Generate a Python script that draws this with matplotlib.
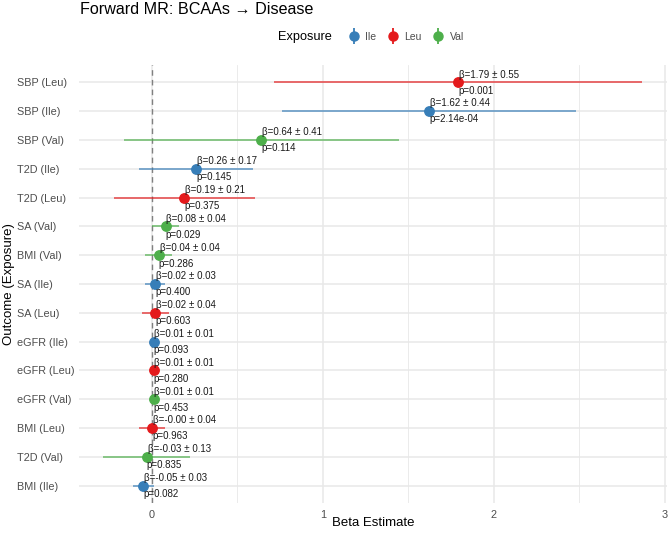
import matplotlib
matplotlib.use("Agg")
import matplotlib.pyplot as plt
from matplotlib.lines import Line2D
from matplotlib.legend_handler import HandlerTuple

plt.rcParams['font.family'] = ['Liberation Sans', 'DejaVu Sans']

# Forward MR results, listed top to bottom as in the figure
labels = ['SBP (Leu)', 'SBP (Ile)', 'SBP (Val)', 'T2D (Ile)', 'T2D (Leu)',
          'SA (Val)', 'BMI (Val)', 'SA (Ile)', 'SA (Leu)', 'eGFR (Ile)',
          'eGFR (Leu)', 'eGFR (Val)', 'BMI (Leu)', 'T2D (Val)', 'BMI (Ile)']
exposure = ['Leu', 'Ile', 'Val', 'Ile', 'Leu', 'Val', 'Val', 'Ile', 'Leu',
            'Ile', 'Leu', 'Val', 'Leu', 'Val', 'Ile']
beta = [1.79, 1.62, 0.64, 0.26, 0.19, 0.08, 0.04, 0.02, 0.02, 0.01,
        0.01, 0.01, -0.00, -0.03, -0.05]
se = [0.55, 0.44, 0.41, 0.17, 0.21, 0.04, 0.04, 0.03, 0.04, 0.01,
      0.01, 0.01, 0.04, 0.13, 0.03]
pval = [0.001, 2.14e-04, 0.114, 0.145, 0.375, 0.029, 0.286, 0.400, 0.603,
        0.093, 0.280, 0.453, 0.963, 0.835, 0.082]

colors = {'Ile': '#377EB8', 'Leu': '#E41A1C', 'Val': '#4DAF4A'}
grid_col = '#E8E8E8'
text_col = '#4D4D4D'

fig = plt.figure(figsize=(6.69, 5.33), dpi=100)
ax = fig.add_axes([79 / 669, 30 / 533, (667 - 79) / 669, (503 - 65) / 533])

n = len(labels)
ypos = [n - i for i in range(n)]

ax.axvline(0, color='#808080', ls=(0, (4, 3)), lw=1.0, zorder=2)

for y, e, b, s, p in zip(ypos, exposure, beta, se, pval):
    c = colors[e]
    ax.plot([b - 1.96 * s, b + 1.96 * s], [y, y], color=c, lw=1.1,
            alpha=0.8, zorder=3, solid_capstyle='butt')
    ax.plot(b, y, 'o', color=c, ms=6.8, zorder=4)
    ax.annotate('β=%.2f ± %.2f' % (b, s), (b, y), xytext=(0.5, 5.5),
                textcoords='offset points', ha='left', va='center',
                fontsize=7, color='#1A1A1A', zorder=5)
    ptxt = '%.2e' % p if p < 0.001 else '%.3f' % p
    ax.annotate('p=' + ptxt, (b, y), xytext=(0, -6),
                textcoords='offset points', ha='left', va='center',
                fontsize=7, color='#1A1A1A', zorder=5)

ax.set_xlim(-0.427, 3.012)
ax.set_ylim(0.4, n + 0.6)
ax.set_yticks(ypos)
ax.set_yticklabels(labels)
ax.set_xticks([0, 1, 2, 3])
ax.set_xticks([0.5, 1.5, 2.5], minor=True)
ax.tick_params(axis='both', which='both', length=0, colors=text_col,
               labelsize=7.8, pad=5)
# y labels are left-aligned in the reference, starting ~17 px from the edge
ax.tick_params(axis='y', pad=(79 - 17) * 0.72)
for t in ax.get_yticklabels():
    t.set_ha('left')
ax.grid(True, which='major', color=grid_col, lw=1.1, zorder=0)
ax.grid(True, which='minor', axis='x', color=grid_col, lw=0.6, zorder=0)
ax.set_axisbelow(True)
for sp in ax.spines.values():
    sp.set_visible(False)

# axis titles placed by hand so they stay inside the canvas
fig.text(373 / 669, 1 - 523 / 533, 'Beta Estimate', fontsize=9.5,
         ha='center', va='center')
fig.text(9 / 669, 1 - 284 / 533, 'Outcome (Exposure)', fontsize=9.5,
         ha='center', va='center', rotation=90)

fig.text(80 / 669, 1 - 10 / 533, 'Forward MR: BCAAs → Disease',
         fontsize=11.6, ha='left', va='center')

# legend: title to the left, items in a row
fig.text(278 / 669, 1 - 37 / 533, 'Exposure', fontsize=9.2, ha='left', va='center')
handles = []
for k in ['Ile', 'Leu', 'Val']:
    handles.append((Line2D([], [], color=colors[k], marker='|', ms=12, mew=1.3, ls='none'),
                    Line2D([], [], color=colors[k], marker='o', ms=6.5, ls='none')))
fig.legend(handles, ['Ile', 'Leu', 'Val'], loc='center left',
           bbox_to_anchor=(338 / 669, 1 - 37 / 533), ncol=3, frameon=False,
           handler_map={tuple: HandlerTuple(ndivide=1)}, handlelength=1.2,
           handletextpad=0.5, columnspacing=1.0, fontsize=7.5, labelcolor=text_col)

plt.savefig('out.png', dpi=100)
